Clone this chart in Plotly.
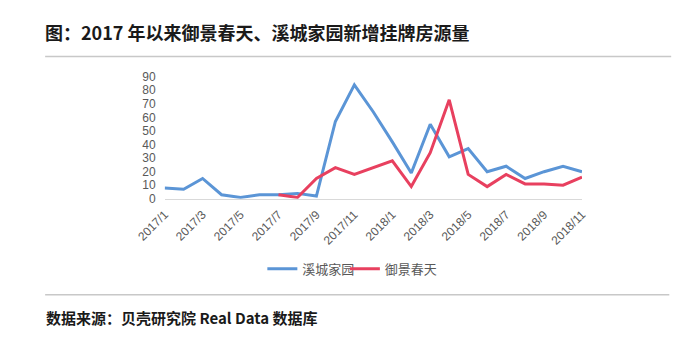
import plotly.graph_objects as go

months = ["2017/1","2017/2","2017/3","2017/4","2017/5","2017/6","2017/7","2017/8","2017/9","2017/10","2017/11","2017/12",
          "2018/1","2018/2","2018/3","2018/4","2018/5","2018/6","2018/7","2018/8","2018/9","2018/10","2018/11"]
xicheng = [8, 7, 15, 3, 1, 3, 3, 4, 2, 57, 84, 64, 42, 19, 55, 31, 37, 20, 24, 15, 20, 24, 20]
yujing = [None, None, None, None, None, None, 3, 1, 15, 23, 18, 23, 28, 9, 34, 73, 18, 9, 18, 11, 11, 10, 16]
tick_labels = months[::2]

W, H = 700, 342
x0, x1 = 143, 583
ytop, ybot = 72.7, 200

FONT = "Noto Sans CJK SC"
NUMFONT = "Liberation Sans"
fig = go.Figure()
fig.add_trace(go.Scatter(x=months, y=xicheng, mode="lines", name="溪城家园",
                         line=dict(color="#5B95D6", width=3), legend="legend"))
fig.add_trace(go.Scatter(x=months, y=yujing, mode="lines", name="御景春天",
                         line=dict(color="#E8405F", width=3), legend="legend2"))

legend_common = dict(orientation="h", xanchor="left", yanchor="middle",
                     font=dict(family=FONT, size=13, color="#595959"), bgcolor="rgba(0,0,0,0)",
                     itemwidth=30)

fig.update_layout(
    width=W, height=H,
    margin=dict(l=0, r=0, t=0, b=0),
    paper_bgcolor="white", plot_bgcolor="white",
    font=dict(family=FONT, color="#595959", size=11),
    xaxis=dict(domain=[x0 / W, x1 / W], type="category", tickvals=tick_labels, ticktext=tick_labels,
               tickangle=-45, showgrid=False, showline=True, linecolor="#D9D9D9", linewidth=1,
               ticks="", tickfont=dict(family=NUMFONT, size=12, color="#595959"), zeroline=False,
               ticklabelstandoff=3),
    yaxis=dict(domain=[1 - ybot / H, 1 - ytop / H], range=[0, 90], tickvals=list(range(0, 100, 10)),
               showgrid=False, showline=False, zeroline=False, ticks="",
               tickfont=dict(family=NUMFONT, size=12, color="#595959"), ticklabelstandoff=8),
    showlegend=True,
    legend=dict(x=246 / W, y=1 - 273 / H, **legend_common),
    legend2=dict(x=333 / W, y=1 - 273 / H, **legend_common),
    shapes=[
        dict(type="line", xref="paper", yref="paper", x0=17 / W, x1=677 / W, y0=1 - 51.7 / H, y1=1 - 51.7 / H,
             line=dict(color="#C8C8C8", width=1.5)),
        dict(type="line", xref="paper", yref="paper", x0=17 / W, x1=675 / W, y0=1 - 300 / H, y1=1 - 300 / H,
             line=dict(color="#C8C8C8", width=1.5)),
    ],
    annotations=[
        dict(text="<b>图：2017 年以来御景春天、溪城家园新增挂牌房源量</b>", xref="paper", yref="paper",
             x=15 / W, y=1 - 26 / H, xanchor="left", yanchor="middle", showarrow=False,
             font=dict(family=FONT, size=18, color="#1a1a1a")),
        dict(text="<b>数据来源：贝壳研究院 Real Data 数据库</b>", xref="paper", yref="paper",
             x=16 / W, y=1 - 324 / H, xanchor="left", yanchor="middle", showarrow=False,
             font=dict(family=FONT, size=15, color="#1a1a1a")),
    ],
)

fig.write_html("out.html")
